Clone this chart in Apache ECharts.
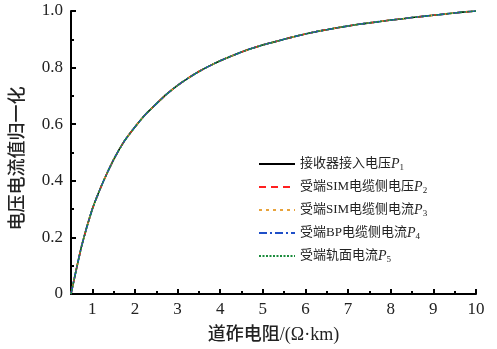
<!DOCTYPE html>
<html>
<head>
<meta charset="utf-8">
<script src="https://cdn.jsdelivr.net/npm/echarts@6/dist/echarts.min.js"></script>
<style>
html,body{margin:0;padding:0;background:#fff;}
#chart{width:497px;height:349px;}
</style>
</head>
<body>
<div id="chart"></div>
<script>
var xValues = [0.5, 0.75, 1, 1.25, 1.5, 1.75, 2, 2.25, 2.5, 2.75, 3, 3.25, 3.5, 3.75, 4, 4.25, 4.5, 4.75, 5, 5.25, 5.5, 5.75, 6, 6.25, 6.5, 6.75, 7, 7.25, 7.5, 7.75, 8, 8.25, 8.5, 8.75, 9, 9.25, 9.5, 9.75, 10];
var p1 = [0, 0.17, 0.30, 0.395, 0.475, 0.54, 0.59, 0.635, 0.672, 0.707, 0.737, 0.763, 0.786, 0.806, 0.824, 0.84, 0.855, 0.868, 0.88, 0.89, 0.90, 0.91, 0.919, 0.927, 0.934, 0.941, 0.947, 0.953, 0.958, 0.963, 0.968, 0.972, 0.977, 0.981, 0.985, 0.989, 0.993, 0.997, 1.0];
var p2 = [0, 0.17, 0.30, 0.395, 0.475, 0.54, 0.59, 0.635, 0.672, 0.707, 0.737, 0.763, 0.786, 0.806, 0.824, 0.84, 0.855, 0.868, 0.88, 0.89, 0.90, 0.91, 0.919, 0.927, 0.934, 0.941, 0.947, 0.953, 0.958, 0.963, 0.968, 0.972, 0.977, 0.981, 0.985, 0.989, 0.993, 0.997, 1.0];
var p3 = [0, 0.17, 0.30, 0.395, 0.475, 0.54, 0.59, 0.635, 0.672, 0.707, 0.737, 0.763, 0.786, 0.806, 0.824, 0.84, 0.855, 0.868, 0.88, 0.89, 0.90, 0.91, 0.919, 0.927, 0.934, 0.941, 0.947, 0.953, 0.958, 0.963, 0.968, 0.972, 0.977, 0.981, 0.985, 0.989, 0.993, 0.997, 1.0];
var p4 = [0, 0.17, 0.30, 0.395, 0.475, 0.54, 0.59, 0.635, 0.672, 0.707, 0.737, 0.763, 0.786, 0.806, 0.824, 0.84, 0.855, 0.868, 0.88, 0.89, 0.90, 0.91, 0.919, 0.927, 0.934, 0.941, 0.947, 0.953, 0.958, 0.963, 0.968, 0.972, 0.977, 0.981, 0.985, 0.989, 0.993, 0.997, 1.0];
var p5 = [0, 0.17, 0.30, 0.395, 0.475, 0.54, 0.59, 0.635, 0.672, 0.707, 0.737, 0.763, 0.786, 0.806, 0.824, 0.84, 0.855, 0.868, 0.88, 0.89, 0.90, 0.91, 0.919, 0.927, 0.934, 0.941, 0.947, 0.953, 0.958, 0.963, 0.968, 0.972, 0.977, 0.981, 0.985, 0.989, 0.993, 0.997, 1.0];
var xMajor = [1, 2, 3, 4, 5, 6, 7, 8, 9, 10];
var xMinor = [1.5, 2.5, 3.5, 4.5, 5.5, 6.5, 7.5, 8.5, 9.5];
var names = ['接收器接入电压', '受端SIM电缆侧电压', '受端SIM电缆侧电流', '受端BP电缆侧电流', '受端轨面电流'];
var subs = ['1', '2', '3', '4', '5'];
var colors = ['#000000', '#ff2020', '#e8a33c', '#1f4fc8', '#1a8c3c'];
var dashes = ['solid', [7, 5], [3, 4], [8, 3, 2, 3], [2, 1.5]];

var serif = '"Liberation Serif", "Noto Sans CJK SC", serif';
var chart = echarts.init(document.getElementById('chart'));

function pairs(ys) {
	var out = [];
	for (var i = 0; i < xValues.length; i++) out.push([xValues[i], ys[i]]);
	return out;
}

var allY = [p1, p2, p3, p4, p5];
var series = [];
for (var i = 0; i < 5; i++) {
	series.push({
		name: names[i],
		type: 'line',
		smooth: 0.2,
		symbol: 'none',
		xAxisIndex: 0,
		data: pairs(allY[i]),
		lineStyle: {color: colors[i], width: 1.6, type: dashes[i]},
		itemStyle: {color: colors[i]}
	});
}

var option = {
	animation: false,
	grid: {left: 71, right: 21, top: 11, bottom: 52},
	legend: {
		orient: 'vertical',
		left: 253,
		top: 152,
		itemWidth: 36,
		itemHeight: 10,
		itemGap: 7.5,
		data: names,
		itemStyle: {opacity: 0},
		formatter: function (name) {
			var k = names.indexOf(name);
			return '{a|' + name + '}{p|P}{s|' + subs[k] + '}';
		},
		textStyle: {
			fontFamily: serif,
			fontSize: 13,
			color: '#222',
			rich: {
				a: {fontFamily: serif, fontSize: 13, color: '#222'},
				p: {fontFamily: '"Liberation Serif", serif', fontStyle: 'italic', fontSize: 14, color: '#222'},
				s: {fontFamily: '"Liberation Serif", serif', fontSize: 9, color: '#222', padding: [8, 0, 0, 0]}
			}
		}
	},
	xAxis: [{
		type: 'value',
		min: 0.5,
		max: 10,
		name: '道砟电阻/(Ω·km)',
		nameLocation: 'middle',
		nameGap: 32,
		nameTextStyle: {fontFamily: serif, fontSize: 18, fontWeight: 500, color: '#222'},
		axisLine: {lineStyle: {color: '#000', width: 2}},
		axisTick: {inside: true, length: 5, customValues: xMajor, lineStyle: {width: 2, color: '#000'}},
		axisLabel: {customValues: xMajor, fontFamily: serif, fontSize: 17, color: '#222', margin: 7},
		splitLine: {show: false}
	}, {
		type: 'value',
		min: 0.5,
		max: 10,
		position: 'bottom',
		axisLine: {show: false},
		axisTick: {inside: true, length: 3, customValues: xMinor, lineStyle: {width: 2, color: '#000'}},
		axisLabel: {show: false},
		splitLine: {show: false}
	}],
	yAxis: {
		type: 'value',
		min: 0,
		max: 1,
		interval: 0.2,
		name: '电压电流值归一化',
		nameLocation: 'middle',
		nameGap: 44,
		nameTextStyle: {fontFamily: serif, fontSize: 18, fontWeight: 500, color: '#222', padding: [0, 0, 0, -12]},
		axisLine: {show: true, lineStyle: {color: '#000', width: 2}},
		axisTick: {show: true, inside: true, length: 5, lineStyle: {width: 2, color: '#000'}},
		minorTick: {show: true, splitNumber: 2, length: 3, lineStyle: {width: 2, color: '#000'}},
		axisLabel: {
			fontFamily: serif, fontSize: 17, color: '#222', margin: 8,
			formatter: function (v) { return v === 0 ? '0' : v.toFixed(1); }
		},
		splitLine: {show: false}
	},
	series: series
};
chart.setOption(option);
</script>
</body>
</html>
